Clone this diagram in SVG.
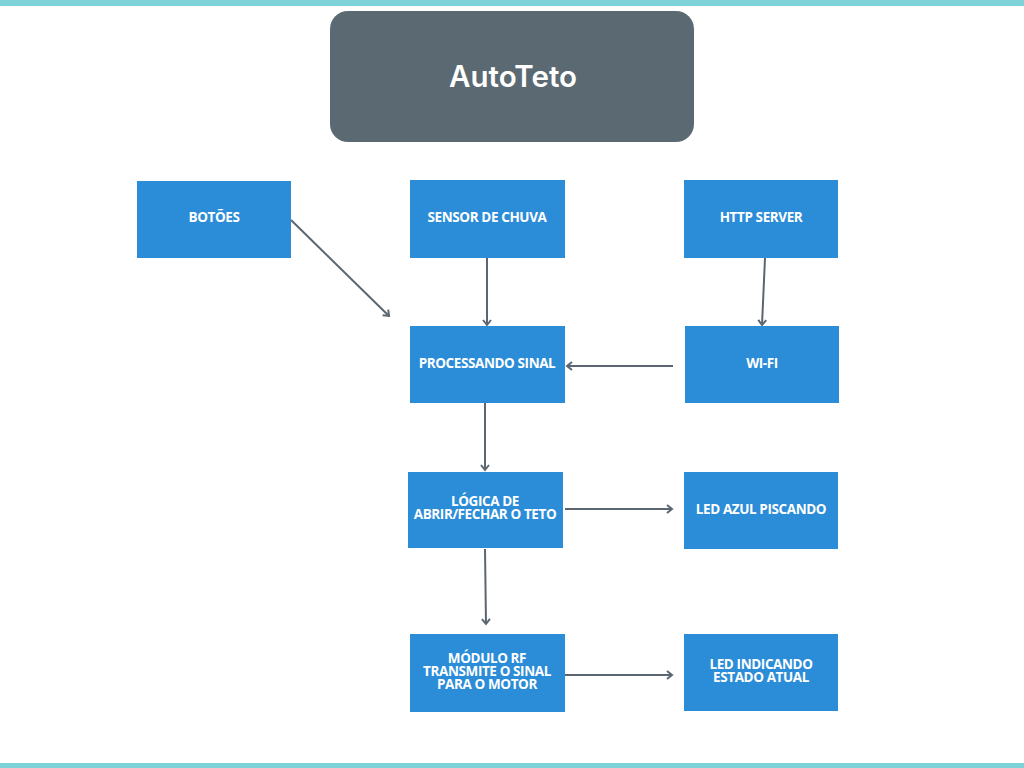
<svg xmlns="http://www.w3.org/2000/svg" width="1024" height="768" viewBox="0 0 1024 768">
<defs>
<style>
.node{fill:#2b8cd8;}
.lbl{fill:#ffffff;font-family:"Open Sans","Liberation Sans",sans-serif;font-weight:700;font-size:13.5px;text-anchor:middle;letter-spacing:-0.4px;}
.conn{stroke:#5b6670;stroke-width:2;fill:none;marker-end:url(#arr);}
</style>
<marker id="arr" markerUnits="userSpaceOnUse" markerWidth="12" markerHeight="12" refX="6" refY="5" orient="auto">
<path d="M1,1 L6,5 L1,9" fill="none" stroke="#5b6670" stroke-width="2"/>
</marker>
</defs>
<rect x="0" y="0" width="1024" height="768" fill="#ffffff"/>
<rect x="0" y="0" width="1024" height="6" fill="#7ed3d9"/>
<rect x="0" y="763" width="1024" height="5" fill="#7ed3d9"/>
<g id="title">
<rect x="330" y="11" width="364" height="131" rx="18" fill="#5b6a72"/>
<text x="513" y="87" fill="#ffffff" font-family="Inter,'Liberation Sans',sans-serif" font-weight="600" font-size="29.5" text-anchor="middle">AutoTeto</text>
</g>
<g id="connectors">
<line class="conn" x1="291" y1="220" x2="389" y2="316"/>
<line class="conn" x1="487" y1="258" x2="487" y2="325"/>
<line class="conn" x1="765" y1="258" x2="762" y2="325"/>
<line class="conn" x1="673" y1="366" x2="567" y2="366"/>
<line class="conn" x1="485" y1="403" x2="485" y2="470"/>
<line class="conn" x1="565" y1="509" x2="672" y2="509"/>
<line class="conn" x1="485" y1="549" x2="486" y2="624"/>
<line class="conn" x1="565" y1="675" x2="672" y2="675"/>
</g>
<g id="botoes"><rect class="node" x="137" y="181" width="154" height="77"/><text class="lbl" x="214" y="222">BOTÕES</text></g>
<g id="sensor"><rect class="node" x="410" y="180" width="155" height="78"/><text class="lbl" x="487" y="222">SENSOR DE CHUVA</text></g>
<g id="http"><rect class="node" x="684" y="180" width="154" height="78"/><text class="lbl" x="761" y="222">HTTP SERVER</text></g>
<g id="processando"><rect class="node" x="410" y="326" width="155" height="77"/><text class="lbl" x="487" y="368">PROCESSANDO SINAL</text></g>
<g id="wifi"><rect class="node" x="685" y="326" width="154" height="77"/><text class="lbl" x="762" y="368">WI-FI</text></g>
<g id="logica"><rect class="node" x="408" y="472" width="155" height="76"/><text class="lbl" x="485" y="506">LÓGICA DE</text><text class="lbl" x="485" y="519">ABRIR/FECHAR O TETO</text></g>
<g id="ledazul"><rect class="node" x="684" y="472" width="154" height="77"/><text class="lbl" x="761" y="514">LED AZUL PISCANDO</text></g>
<g id="modulo"><rect class="node" x="410" y="634" width="155" height="78"/><text class="lbl" x="487" y="663">MÓDULO RF</text><text class="lbl" x="487" y="676">TRANSMITE O SINAL</text><text class="lbl" x="487" y="689">PARA O MOTOR</text></g>
<g id="ledindicando"><rect class="node" x="684" y="634" width="154" height="77"/><text class="lbl" x="761" y="669">LED INDICANDO</text><text class="lbl" x="761" y="682">ESTADO ATUAL</text></g>
</svg>
